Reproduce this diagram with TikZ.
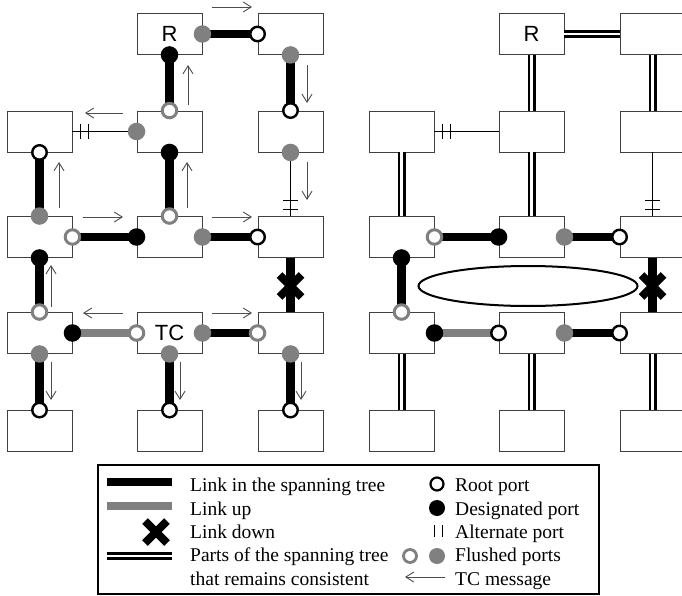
\documentclass[tikz,border=0pt]{standalone}
\usepackage{fontspec}
\setmainfont{Liberation Serif}
\newfontfamily\lsans{Liberation Sans}
\usetikzlibrary{arrows.meta,shapes.geometric}
\definecolor{fgray}{HTML}{808080}
\begin{document}
\begin{tikzpicture}[x=1pt,y=-1pt,
  box/.style={draw=black!75, line width=0.9pt, minimum width=65pt, minimum height=41pt, inner sep=0pt, font=\lsans\fontsize{22}{22}\selectfont},
  tree/.style={line width=8.5pt, black},
  linkup/.style={line width=8.5pt, fgray},
  altl/.style={line width=1pt, black},
  cons/.style={draw=black, line width=2.6pt, double=white, double distance=2.8pt},
  tcm/.style={draw=black!70, line width=0.9pt, -{Straight Barb[length=8pt,width=10pt]}},
  rootp/.style={circle, draw=black, fill=white, line width=2.4pt, minimum size=14.5pt, inner sep=0pt},
  desp/.style={circle, fill=black, minimum size=17.5pt, inner sep=0pt},
  frp/.style={circle, draw=fgray, fill=white, line width=3pt, minimum size=14.5pt, inner sep=0pt},
  fdp/.style={circle, fill=fgray, minimum size=17.5pt, inner sep=0pt},
  lgtext/.style={anchor=base west, inner sep=0pt, font=\fontsize{19.5}{23}\selectfont},
  xmark/.pic={\draw[line width=8pt] (-11,-11) -- (11,11) (-11,11) -- (11,-11);},
  altv/.pic={\draw[line width=1pt] (-4,-7.5) -- (-4,7.5) (4,-7.5) -- (4,7.5);},
  alth/.pic={\draw[line width=1pt] (-7.5,-4.5) -- (7.5,-4.5) (-7.5,4.5) -- (7.5,4.5);}
]
\useasboundingbox (0,0) rectangle (682,596);
\clip (0,0) rectangle (682,596);

% ---------------- left panel boxes ----------------
\node[box] (a02) at (169.5,34) {\raisebox{-2pt}{R}};
\node[box] (a03) at (290.5,34) {};
\node[box] (a11) at (39.5,131.5) {};
\node[box] (a12) at (169.5,131.5) {};
\node[box] (a13) at (290.5,131.5) {};
\node[box] (a21) at (39.5,237) {};
\node[box] (a22) at (169.5,237) {};
\node[box] (a23) at (290.5,237) {};
\node[box] (a31) at (39.5,333) {};
\node[box] (a32) at (169.5,333) {\raisebox{-2pt}{TC}};
\node[box] (a33) at (290.5,333) {};
\node[box] (a41) at (39.5,431) {};
\node[box] (a42) at (169.5,431) {};
\node[box] (a43) at (290.5,431) {};

% ---------------- right panel boxes ----------------
\node[box] (b02) at (531.5,34) {\raisebox{-2pt}{R}};
\node[box] (b03) at (652.5,34) {};
\node[box] (b11) at (401.5,131.5) {};
\node[box] (b12) at (531.5,131.5) {};
\node[box] (b13) at (652.5,131.5) {};
\node[box] (b21) at (401.5,237) {};
\node[box] (b22) at (531.5,237) {};
\node[box] (b23) at (652.5,237) {};
\node[box] (b31) at (401.5,333) {};
\node[box] (b32) at (531.5,333) {};
\node[box] (b33) at (652.5,333) {};
\node[box] (b41) at (401.5,431) {};
\node[box] (b42) at (531.5,431) {};
\node[box] (b43) at (652.5,431) {};

% ---------------- left panel links ----------------
\draw[tree] (a02.east) -- (a03.west);
\draw[tree] (a02.south) -- (a12.north);
\draw[tree] (a03.south) -- (a13.north);
\draw[altl] (a11.east) -- (a12.west);
\draw[tree] (a11.south) -- (a21.north);
\draw[tree] (a12.south) -- (a22.north);
\draw[altl] (a13.south) -- (a23.north);
\draw[tree] (a21.east) -- (a22.west);
\draw[tree] (a22.east) -- (a23.west);
\draw[tree] (a23.south) -- (a33.north);
\draw[tree] (a21.south) -- (a31.north);
\draw[linkup] (a31.east) -- (a32.west);
\draw[tree] (a32.east) -- (a33.west);
\draw[tree] (a31.south) -- (a41.north);
\draw[tree] (a32.south) -- (a42.north);
\draw[tree] (a33.south) -- (a43.north);
\pic at (84,132) {altv};
\pic at (290.5,204.5) {alth};
\pic at (290.5,286) {xmark};

% ---------------- right panel links ----------------
\draw[cons] (b02.east) -- (b03.west);
\draw[cons] (b02.south) -- (b12.north);
\draw[cons] (b03.south) -- (b13.north);
\draw[altl] (b11.east) -- (b12.west);
\draw[cons] (b11.south) -- (b21.north);
\draw[cons] (b12.south) -- (b22.north);
\draw[altl] (b13.south) -- (b23.north);
\draw[tree] (b21.east) -- (b22.west);
\draw[tree] (b22.east) -- (b23.west);
\draw[tree] (b21.south) -- (b31.north);
\draw[tree] (b23.south) -- (b33.north);
\draw[linkup] (b31.east) -- (b32.west);
\draw[tree] (b32.east) -- (b33.west);
\draw[cons] (b31.south) -- (b41.north);
\draw[cons] (b32.south) -- (b42.north);
\draw[cons] (b33.south) -- (b43.north);
\pic at (446,132) {altv};
\pic at (652.5,204.5) {alth};
\pic at (652.5,286) {xmark};
\node[draw, line width=2pt, ellipse, minimum width=219pt, minimum height=40pt, inner sep=0pt] (ell) at (528,286) {};

% ---------------- left panel ports ----------------
\node[fdp] (pa02e) at (a02.east) {};
\node[desp] (pa02s) at (a02.south) {};
\node[rootp] (pa03w) at (a03.west) {};
\node[fdp] (pa03s) at (a03.south) {};
\node[rootp] (pa11s) at (a11.south) {};
\node[frp] (pa12n) at (a12.north) {};
\node[fdp] (pa12w) at (a12.west) {};
\node[desp] (pa12s) at (a12.south) {};
\node[rootp] (pa13n) at (a13.north) {};
\node[fdp] (pa13s) at (a13.south) {};
\node[fdp] (pa21n) at (a21.north) {};
\node[frp] (pa21e) at (a21.east) {};
\node[desp] (pa21s) at (a21.south) {};
\node[frp] (pa22n) at (a22.north) {};
\node[desp] (pa22w) at (a22.west) {};
\node[fdp] (pa22e) at (a22.east) {};
\node[rootp] (pa23w) at (a23.west) {};
\node[frp] (pa31n) at (a31.north) {};
\node[desp] (pa31e) at (a31.east) {};
\node[fdp] (pa31s) at (a31.south) {};
\node[frp] (pa32w) at (a32.west) {};
\node[fdp] (pa32e) at (a32.east) {};
\node[fdp] (pa32s) at (a32.south) {};
\node[frp] (pa33w) at (a33.west) {};
\node[fdp] (pa33s) at (a33.south) {};
\node[rootp] (pa41n) at (a41.north) {};
\node[rootp] (pa42n) at (a42.north) {};
\node[rootp] (pa43n) at (a43.north) {};

% ---------------- right panel ports ----------------
\node[frp] (pb21e) at (b21.east) {};
\node[desp] (pb22w) at (b22.west) {};
\node[fdp] (pb22e) at (b22.east) {};
\node[rootp] (pb23w) at (b23.west) {};
\node[desp] (pb21s) at (b21.south) {};
\node[frp] (pb31n) at (b31.north) {};
\node[desp] (pb31e) at (b31.east) {};
\node[rootp] (pb32w) at (b32.west) {};
\node[fdp] (pb32e) at (b32.east) {};
\node[rootp] (pb33w) at (b33.west) {};

% ---------------- TC messages ----------------
\draw[tcm] (212,7) -- (252,7);
\draw[tcm] (307,65) -- (307,103);
\draw[tcm] (188,105) -- (188,65);
\draw[tcm] (123,113) -- (85,113);
\draw[tcm] (59,208) -- (59,162);
\draw[tcm] (187,208) -- (187,162);
\draw[tcm] (307,162) -- (307,200);
\draw[tcm] (83,217) -- (123,217);
\draw[tcm] (212,217) -- (252,217);
\draw[tcm] (51,307) -- (51,265);
\draw[tcm] (123,313) -- (83,313);
\draw[tcm] (212,313) -- (252,313);
\draw[tcm] (51,362) -- (51,400);
\draw[tcm] (180,362) -- (180,400);
\draw[tcm] (301,362) -- (301,400);

% ---------------- legend ----------------
\node[draw, line width=2.5pt, minimum width=501pt, minimum height=129pt, inner sep=0pt] (legend) at (348.5,529.5) {};
\draw[tree] (107,482) -- (172,482);
\draw[linkup] (107,506) -- (172,506);
\pic at (156,532) {xmark};
\draw[cons] (107,556) -- (172,556);
\node[lgtext] (l1) at (190,491.5) {Link in the spanning tree};
\node[lgtext] (l2) at (190,515) {Link up};
\node[lgtext] (l3) at (190,538.3) {Link down};
\node[lgtext] (l4) at (190,561.6) {Parts of the spanning tree};
\node[lgtext] (l5) at (190,585) {that remains consistent};
\node[rootp, minimum size=13pt, line width=2.2pt] (lr) at (437,484) {};
\node[desp, minimum size=16pt] (ld) at (437,508) {};
\draw[line width=1pt] (434.3,525) -- (434.3,537) (442.3,525) -- (442.3,537);
\node[frp, minimum size=13pt, line width=2.8pt] (lfr) at (410,556) {};
\node[fdp, minimum size=16pt] (lfd) at (437,556) {};
\draw[tcm] (445,577) -- (405,577);
\node[lgtext] (r1) at (455,491.5) {Root port};
\node[lgtext] (r2) at (455,515) {Designated port};
\node[lgtext] (r3) at (455,538.3) {Alternate port};
\node[lgtext] (r4) at (455,561.6) {Flushed ports};
\node[lgtext] (r5) at (455,585) {TC message};
\end{tikzpicture}
\end{document}
